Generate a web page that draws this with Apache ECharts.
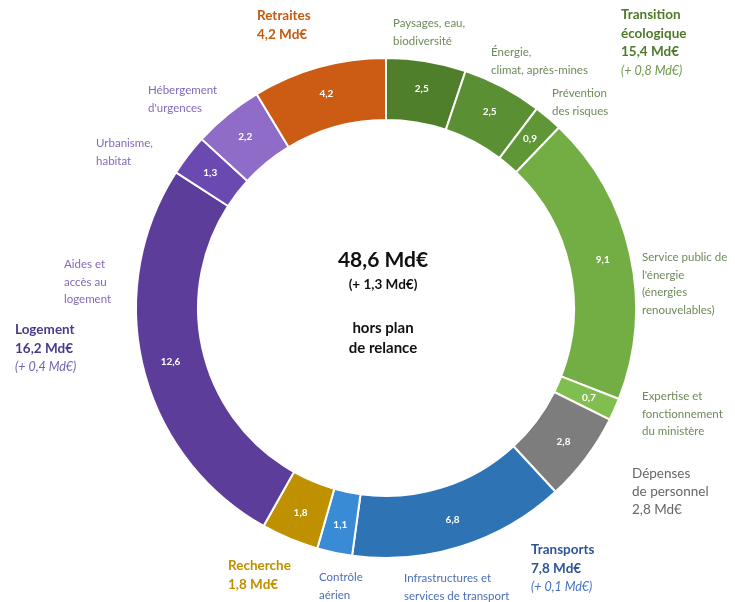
<!DOCTYPE html>
<html>
<head>
<meta charset="utf-8">
<script src="https://cdn.jsdelivr.net/npm/echarts@6/dist/echarts.min.js"></script>
<style>
html,body{margin:0;padding:0;background:#fff;}
#c{width:735px;height:602px;}
</style>
</head>
<body>
<div id="c"></div>
<script>
// ---- data ----
const categories = ['Paysages, eau, biodiversité','Énergie, climat, après-mines','Prévention des risques','Service public de l\'énergie (énergies renouvelables)','Expertise et fonctionnement du ministère','Dépenses de personnel','Infrastructures et services de transport','Contrôle aérien','Recherche','Aides et accès au logement','Urbanisme, habitat','Hébergement d\'urgences','Retraites'];
const values = [2.5, 2.5, 0.9, 9.1, 0.7, 2.8, 6.8, 1.1, 1.8, 12.6, 1.3, 2.2, 4.2];
const sliceLabelLines = [
  ['Paysages, eau,','biodiversité'],
  ['Énergie,','climat, après-mines'],
  ['Prévention','des risques'],
  ['Service public de','l\'énergie','(énergies','renouvelables)'],
  ['Expertise et','fonctionnement','du ministère'],
  null,
  ['Infrastructures et','services de transport'],
  ['Contrôle','aérien'],
  null,
  ['Aides et','accès au','logement'],
  ['Urbanisme,','habitat'],
  ['Hébergement','d\'urgences'],
  null
];
const groupTitles = ['Retraites', 'Transition\nécologique', 'Logement', 'Transports', 'Recherche', 'Dépenses\nde personnel'];
const groupTotals = ['4,2 Md€', '15,4 Md€', '16,2 Md€', '7,8 Md€', '1,8 Md€', '2,8 Md€'];
const groupChanges = [null, '(+ 0,8 Md€)', '(+ 0,4 Md€)', '(+ 0,1 Md€)', null, null];
const centerTotal = '48,6 Md€';
const centerChange = '(+ 1,3 Md€)';
const centerNote = 'hors plan\nde relance';

// ---- styles / layout ----
const sliceColors = ['#507f2c','#5a8f33','#5f9736','#72ae44','#80bf4f','#7d7d7d','#2e74b5','#3a8bd6','#bf9000','#5c3d99','#6a49b0','#8e6cc8','#cc5c14'];
const sliceTextColors = ['#6e8a5a','#6e8a5a','#6e8a5a','#6e8a5a','#6e8a5a',null,'#4a6fb8','#4a6fb8',null,'#8468bd','#8468bd','#8468bd',null];
const sliceLabelPos = [[393,23],[491,52],[552,93],[642,257],[642,396],null,[404,578],[319,577],null,[64,264],[96,143],[148,90],null];
const groupPos = [[257,18],[621,17],[15,332],[531,552],[228,568],[632,476]];
const groupColors = ['#c55a11','#4e7a2a','#4b3a8c','#2f5597','#bf9000','#666666'];
const groupChangeColors = [null,'#6f9a4a','#7563ad','#4472c4',null,null];
const FONT = 'Lato, "Open Sans", sans-serif';

const chart = echarts.init(document.getElementById('c'), null, {renderer:'canvas'});

const graphics = [];
sliceLabelLines.forEach((lines, i) => {
  if (!lines) return;
  const p = sliceLabelPos[i];
  graphics.push({
    type:'text', left:p[0], top:p[1]-8,
    style:{text:lines.join('\n'), fill:sliceTextColors[i], font:'11.5px '+FONT, lineHeight:17.5}
  });
});
groupTitles.forEach((t, i) => {
  const p = groupPos[i];
  const isDep = i === 5;
  let rich = '{b|' + t.split('\n').join('}\n{b|') + '}\n{b|' + groupTotals[i] + '}';
  if (isDep) rich = '{r|' + t.split('\n').join('}\n{r|') + '}\n{r|' + groupTotals[i] + '}';
  if (groupChanges[i]) rich += '\n{i|' + groupChanges[i] + '}';
  graphics.push({
    type:'text', left:p[0], top:p[1]-9,
    style:{
      text:rich,
      rich:{
        b:{font:'bold 13.5px '+FONT, fill:groupColors[i], lineHeight:18.5},
        r:{font:'13.5px '+FONT, fill:groupColors[i], lineHeight:18},
        i:{font:'italic 12.5px '+FONT, fill:groupChangeColors[i] || groupColors[i], lineHeight:18.5}
      }
    }
  });
});
graphics.push({
  type:'text', x:383, y:260,
  style:{text:centerTotal, font:'bold 21px '+FONT, fill:'#111', textAlign:'center', textVerticalAlign:'middle'}
});
graphics.push({
  type:'text', x:383, y:285,
  style:{text:centerChange, font:'bold 13.5px '+FONT, fill:'#111', textAlign:'center', textVerticalAlign:'middle'}
});
graphics.push({
  type:'text', x:383, y:338,
  style:{text:centerNote, font:'bold 15px '+FONT, fill:'#111', textAlign:'center', textVerticalAlign:'middle', lineHeight:20}
});

chart.setOption({
  animation:false,
  backgroundColor:'#fff',
  series:[{
    type:'pie',
    center:[386,308],
    radius:[188,250],
    startAngle:90,
    clockwise:true,
    avoidLabelOverlap:false,
    itemStyle:{borderColor:'#fff', borderWidth:2},
    label:{
      show:true, position:'inside', color:'#fff', fontSize:10, fontFamily:FONT, fontWeight:'bold',
      formatter: p => String(p.value).replace('.', ',')
    },
    labelLine:{show:false},
    emphasis:{disabled:true},
    data: categories.map((n, i) => ({name:n, value:values[i], itemStyle:{color:sliceColors[i]}}))
  }],
  graphic: graphics
});
</script>
</body>
</html>
